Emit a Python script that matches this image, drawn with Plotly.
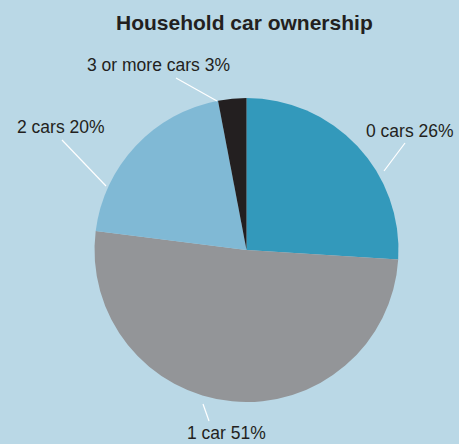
import plotly.graph_objects as go

# Household car ownership shares (%)
categories = ["0 cars", "1 car", "2 cars", "3 or more cars"]
shares = [26, 51, 20, 3]
colors = ["#3399BB", "#939598", "#80B9D5", "#231F20"]

W, H = 459, 444
BG = "#BAD8E6"


def px(x, y):
    """Convert pixel position (from top-left) to paper coordinates."""
    return x / W, 1 - y / H


# pie placement in pixels
cx, cy, r = 246.5, 250, 152
x0, y0 = px(cx - r, cy + r)
x1, y1 = px(cx + r, cy - r)

fig = go.Figure(
    go.Pie(
        labels=categories,
        values=shares,
        sort=False,
        direction="clockwise",
        rotation=0,
        textinfo="none",
        hoverinfo="label+percent",
        marker=dict(colors=colors, line=dict(width=0)),
        domain=dict(x=[x0, x1], y=[y0, y1]),
        showlegend=False,
    )
)

# label anchor (text centre) and leader line endpoints, in pixels
label_layout = {
    "0 cars": ((410, 131), (405, 143), (384, 171)),
    "1 car": ((226, 433), (209, 421), (203, 404)),
    "2 cars": ((61, 127), (62, 140), (106, 186)),
    "3 or more cars": ((158, 65), (176, 78), (217, 101)),
}

annotations = []
shapes = []
for cat, val in zip(categories, shares):
    (tx, ty), (lx0, ly0), (lx1, ly1) = label_layout[cat]
    ax, ay = px(tx, ty)
    annotations.append(
        dict(
            x=ax, y=ay, xref="paper", yref="paper",
            text=f"{cat} {val}%", showarrow=False,
            xanchor="center", yanchor="middle", borderpad=0,
            font=dict(family="Liberation Sans, Arial, sans-serif", size=17.5, color="#231F20"),
        )
    )
    sx0, sy0 = px(lx0, ly0)
    sx1, sy1 = px(lx1, ly1)
    shapes.append(
        dict(type="line", xref="paper", yref="paper",
             x0=sx0, y0=sy0, x1=sx1, y1=sy1,
             line=dict(color="white", width=1.2))
    )

tx, ty = px(244, 22)
annotations.append(
    dict(
        x=tx, y=ty, xref="paper", yref="paper",
        text="<b>Household car ownership</b>", showarrow=False,
        xanchor="center", yanchor="middle",
        font=dict(family="Liberation Sans, Arial, sans-serif", size=21, color="#231F20"),
    )
)

fig.update_layout(
    width=W, height=H,
    margin=dict(l=0, r=0, t=0, b=0),
    paper_bgcolor=BG,
    plot_bgcolor=BG,
    annotations=annotations,
    shapes=shapes,
)

fig.write_html("out.html")
